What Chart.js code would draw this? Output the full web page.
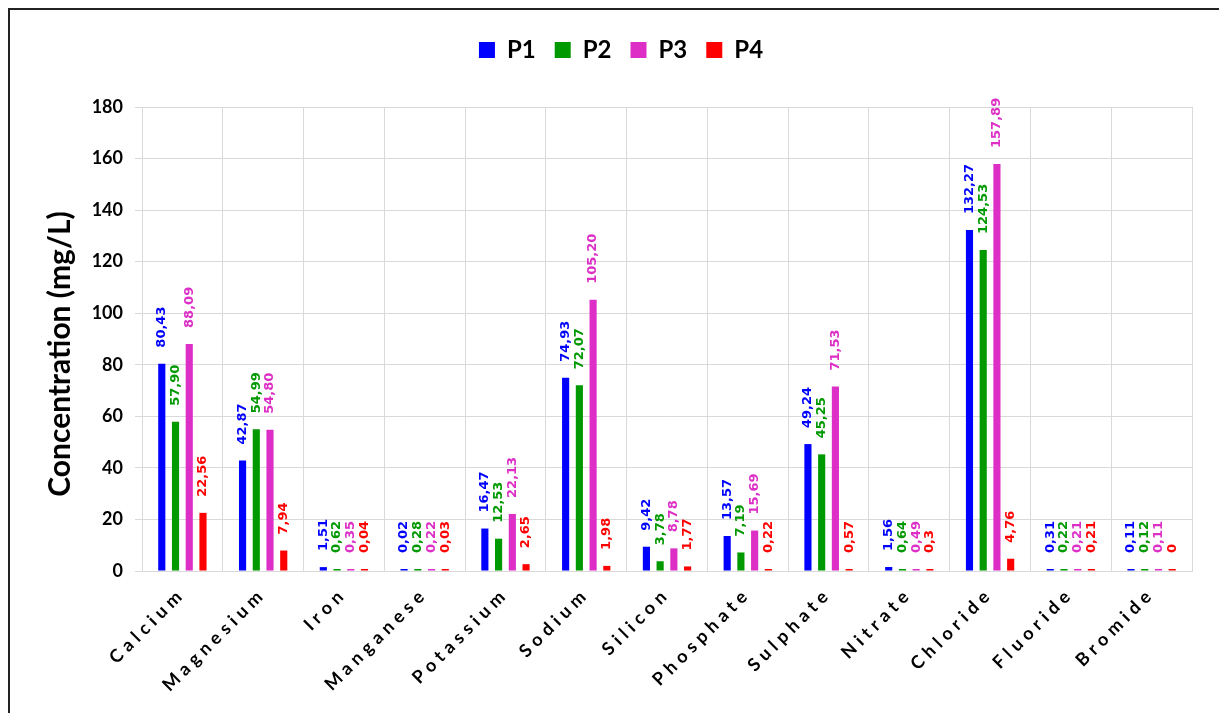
<!DOCTYPE html>
<html>
<head>
<meta charset="utf-8">
<script src="https://cdn.jsdelivr.net/npm/chart.js@4.4.1/dist/chart.umd.min.js"></script>
<style>
  html, body { margin: 0; padding: 0; background: #fff; }
  body { width: 1219px; height: 713px; overflow: hidden; position: relative; }
  #frame { position: absolute; left: 8px; top: 8px; width: 1300px; height: 800px;
           border-left: 2px solid #222; border-top: 2px solid #222; }
  #chart { position: absolute; left: 0; top: 0; }
</style>
</head>
<body>
<div id="frame"></div>
<canvas id="chart" width="1219" height="713"></canvas>
<script>
// categorias e valores (texto como aparece nos rótulos)
const categories = ['Calcium', 'Magnesium', 'Iron', 'Manganese', 'Potassium', 'Sodium', 'Silicon',
                    'Phosphate', 'Sulphate', 'Nitrate', 'Chloride', 'Fluoride', 'Bromide'];
const seriesNames = ['P1', 'P2', 'P3', 'P4'];
const p1 = ['80,43', '42,87', '1,51', '0,02', '16,47', '74,93', '9,42', '13,57', '49,24', '1,56', '132,27', '0,31', '0,11'];
const p2 = ['57,90', '54,99', '0,62', '0,28', '12,53', '72,07', '3,78', '7,19', '45,25', '0,64', '124,53', '0,22', '0,12'];
const p3 = ['88,09', '54,80', '0,35', '0,22', '22,13', '105,20', '8,78', '15,69', '71,53', '0,49', '157,89', '0,21', '0,11'];
const p4 = ['22,56', '7,94', '0,04', '0,03', '2,65', '1,98', '1,77', '0,22', '0,57', '0,3', '4,76', '0,21', '0'];
const yTicks = [0, 20, 40, 60, 80, 100, 120, 140, 160, 180];
const seriesColors = ['#0000ff', '#009900', '#dd2ec6', '#ff0000'];

const toNumber = s => parseFloat(s.replace(',', '.'));

const datasets = [p1, p2, p3, p4].map((serie, i) => ({
    label: seriesNames[i],
    data: serie.map(toNumber),
    labelText: serie,
    backgroundColor: seriesColors[i],
    borderWidth: 0,
    categoryPercentage: 0.68,
    barPercentage: 0.52,
    minBarLength: 2
}));

// rótulos verticais acima das barras
const barLabels = {
    id: 'barLabels',
    afterDatasetsDraw(chart) {
        const ctx = chart.ctx;
        ctx.save();
        ctx.font = 'bold 13px "DejaVu Sans"';
        ctx.textAlign = 'left';
        ctx.textBaseline = 'middle';
        chart.data.datasets.forEach((ds, i) => {
            chart.getDatasetMeta(i).data.forEach((bar, j) => {
                ctx.save();
                ctx.translate(bar.x, bar.y - 16);
                ctx.rotate(-Math.PI / 2);
                ctx.fillStyle = ds.backgroundColor;
                ctx.fillText(ds.labelText[j], 0, 0);
                ctx.restore();
            });
        });
        ctx.restore();
    }
};

// espaçamento entre letras nos nomes das categorias
const spacedLabels = {
    id: 'spacedLabels',
    afterUpdate(chart) {
        const xs = chart.scales.x;
        if (xs._spaced) return;
        const orig = xs.drawLabels;
        xs.drawLabels = function (area) {
            this.ctx.save();
            this.ctx.letterSpacing = '5px';
            orig.call(this, area);
            this.ctx.restore();
        };
        xs._spaced = true;
    }
};

const chart = new Chart(document.getElementById('chart'), {
    type: 'bar',
    data: { labels: categories, datasets: datasets },
    plugins: [barLabels, spacedLabels],
    options: {
        responsive: false,
        animation: false,
        layout: { padding: { top: 19, left: 50, right: 27, bottom: 0 } },
        plugins: {
            legend: {
                position: 'top',
                labels: {
                    font: { family: 'Lato', size: 24, weight: 'bold' },
                    color: '#000',
                    boxWidth: 16,
                    boxHeight: 16,
                    padding: 19
                }
            },
            // espaço entre a legenda e o gráfico
            title: {
                display: true,
                text: ' ',
                weight: 500,
                font: { size: 10 },
                padding: { top: 0, bottom: 23 }
            },
            tooltip: { enabled: false }
        },
        scales: {
            x: {
                afterFit(scale) { scale.height = 142; },
                grid: { color: '#d9d9d9', drawTicks: false },
                border: { color: '#d9d9d9' },
                ticks: {
                    color: '#000',
                    font: { family: 'Lato', size: 18, weight: 'bold' },
                    minRotation: 45,
                    maxRotation: 45,
                    padding: 12,
                    autoSkip: false
                }
            },
            y: {
                afterFit(scale) { scale.width = 92; },
                min: yTicks[0],
                max: yTicks[yTicks.length - 1],
                grid: { color: '#d9d9d9', tickLength: 7 },
                border: { color: '#d9d9d9' },
                ticks: {
                    stepSize: yTicks[1] - yTicks[0],
                    color: '#000',
                    padding: 12,
                    font: { family: 'Lato', size: 18, weight: 'bold' }
                },
                title: {
                    display: true,
                    text: 'Concentration (mg/L)\u2002\u2002',
                    color: '#000',
                    font: { family: 'Lato', size: 30, weight: 'bold', lineHeight: 0.66 },
                    padding: { top: 0, bottom: 0 }
                }
            }
        }
    }
});
</script>
</body>
</html>
